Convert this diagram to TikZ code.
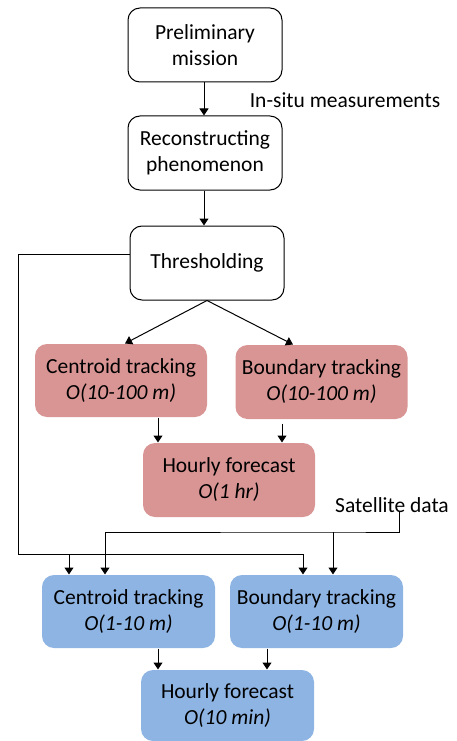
\documentclass[tikz,border=0pt]{standalone}
\usepackage{fontspec}
\setmainfont{Carlito}
\usepackage{tikz}
\usetikzlibrary{arrows.meta}
\usetikzlibrary{calc}
\definecolor{redbox}{HTML}{D99594}
\definecolor{bluebox}{HTML}{8EB4E3}

\tikzset{
  box/.style={draw=black, line width=1pt, rounded corners=12pt, align=center,
    minimum width=154pt, minimum height=74pt, inner sep=0pt,
    font=\fontsize{21.5}{26}\selectfont},
  redstep/.style={box, draw=none, fill=redbox, minimum width=172pt, minimum height=73pt},
  bluestep/.style={box, draw=none, fill=bluebox, minimum width=173pt, minimum height=73pt},
  lbl/.style={font=\fontsize{21.5}{26}\selectfont, inner sep=0pt},
  arr/.style={line width=1pt, -{Triangle[length=7pt,width=9pt]}}
}

\begin{document}
\begin{tikzpicture}[x=1pt,y=-1pt]
  \useasboundingbox (0,0) rectangle (457,741);
  \clip (0,0) rectangle (457,741);
  %% upper chain
  \node [box] (prelim) at (205,45) {Preliminary\\mission};
  \node [box] (recon) at (205,153) {Reconstructing\\phenomenon};
  \node [box] (thresh) at (207,263) {Thresholding};
  \node [lbl] (insitu) at (345,100) {In-situ measurements};
  %% coarse tracking
  \node [redstep] (rcent) at (121,380.5) {Centroid tracking\\\textit{O(10-100 m)}};
  \node [redstep, minimum height=74pt] (rbound) at (321.5,382) {Boundary tracking\\\textit{O(10-100 m)}};
  \node [redstep, minimum height=74pt] (rhour) at (229,480) {Hourly forecast\\\textit{O(1 hr)}};
  %% fine tracking
  \node [bluestep] (bcent) at (128.5,611.5) {Centroid tracking\\\textit{O(1-10 m)}};
  \node [bluestep] (bbound) at (316.5,611.5) {Boundary tracking\\\textit{O(1-10 m)}};
  \node [bluestep, minimum height=71pt] (bhour) at (227.5,705.5) {Hourly forecast\\\textit{O(10 min)}};
  \node [lbl] (sat) at (392,505) {Satellite data};

  \draw [arr] ([xshift=-1pt]prelim.south) -- ([xshift=-1pt]recon.north);
  \draw [arr] ([xshift=-1pt]recon.south) -- ([xshift=-3pt]thresh.north);
  \draw [arr] (thresh.south) -- ([xshift=4pt]rcent.north);
  \draw [arr] (thresh.south) -- ([xshift=-28.5pt]rbound.north);
  \draw [arr] ([xshift=37pt]rcent.south) -- ([xshift=37pt]rcent.south |- rhour.north);
  \draw [arr] ([xshift=-39.5pt,yshift=-4pt]rbound.south) -- ([xshift=-39.5pt]rbound.south |- rhour.north);
  \draw [arr] ([xshift=29.5pt]bcent.south) -- ([xshift=29.5pt]bcent.south |- bhour.north);
  \draw [arr] ([xshift=-49.5pt]bbound.south) -- ([xshift=-49.5pt]bbound.south |- bhour.north);

  %% feedback from thresholding
  \coordinate (loop) at (18,554);
  \coordinate (loopa) at (69,554);
  \draw [arr] ([yshift=9pt]thresh.west) -| (loop) -| ([xshift=-13.5pt]bbound.north);
  \draw [arr] (loopa) -- (loopa |- bcent.north);
  %% satellite data
  \coordinate (sata) at (399,512);
  \coordinate (satb) at (333,532);
  \draw [arr] (sata) |- (satb) -| ([xshift=-23.5pt]bcent.north);
  \draw [arr] (satb) -- (satb |- bbound.north);
\end{tikzpicture}
\end{document}
